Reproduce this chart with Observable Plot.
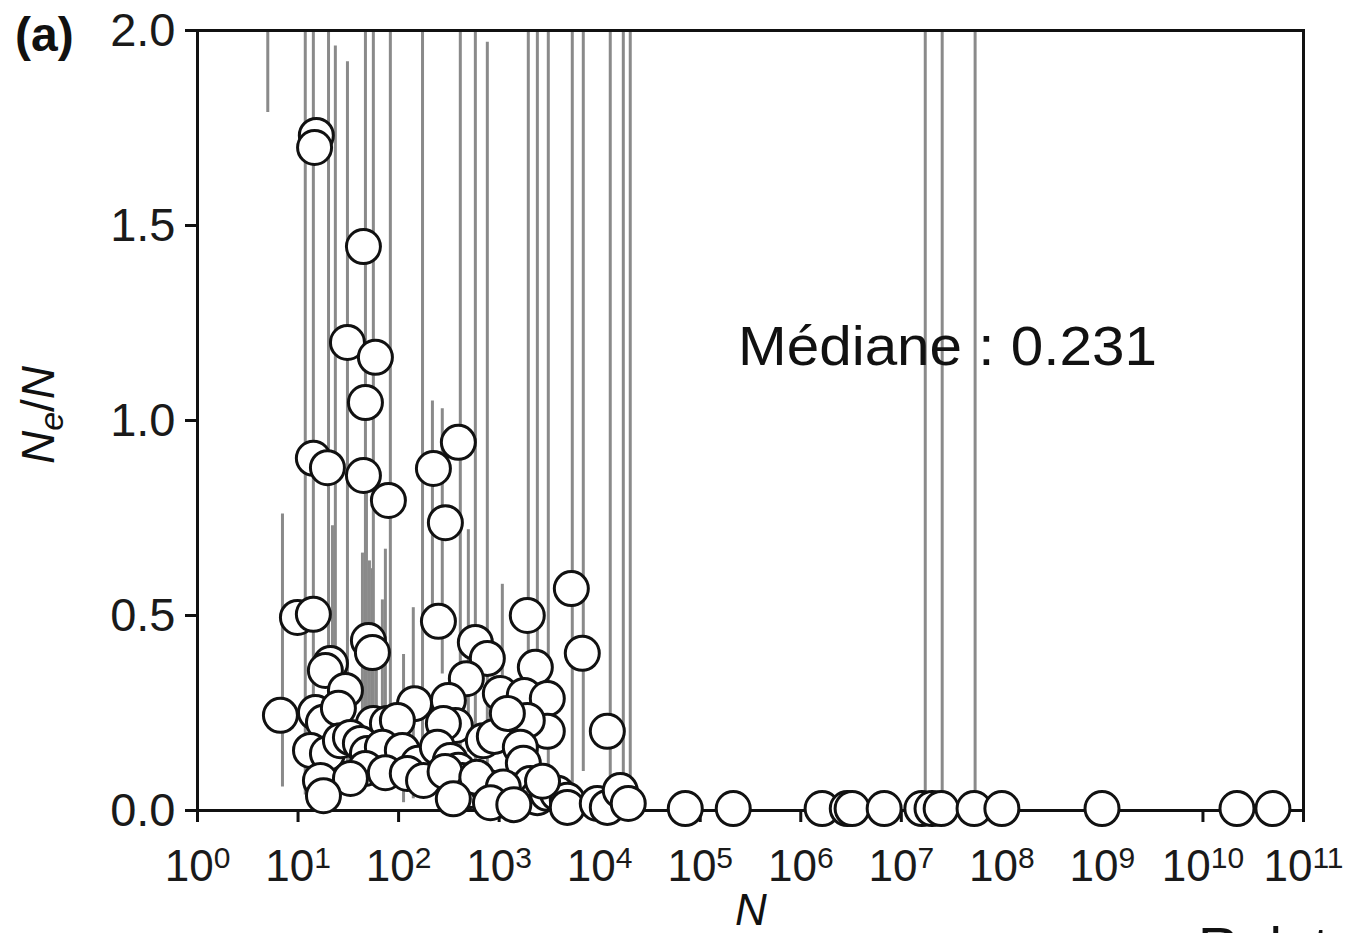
<!DOCTYPE html>
<html>
<head>
<meta charset="utf-8">
<script src="https://cdn.jsdelivr.net/npm/d3@7"></script>
<script src="https://cdn.jsdelivr.net/npm/@observablehq/plot@0.6"></script>
<style>
  html, body { margin: 0; padding: 0; background: #fff; overflow: hidden; }
  #wrap { position: relative; width: 1350px; height: 933px; }
</style>
</head>
<body>
<div id="wrap"></div>
<script>
// ---- Data ----
const xTicks = [1e0, 1e1, 1e2, 1e3, 1e4, 1e5, 1e6, 1e7, 1e8, 1e9, 1e10, 1e11];
const yTicks = [0, 0.5, 1.0, 1.5, 2.0];

// Census size N of each population and its Ne/N ratio
const ptN = [
  15.2, 14.6, 44.7, 31.0, 58.8, 46.8, 14.2, 19.6, 44.7, 79.2, 222, 393, 292,
  9.86, 14.2, 50.1, 54.9, 249, 580, 763, 1905, 5224, 6714, 2291, 472, 1028, 1778, 3013,
  6.68, 21.0, 18.7, 29.6, 144, 313,
  3013, 11910, 367, 697, 896, 14.9, 17.9, 25.2, 56.1, 77.4, 97.3, 279, 1905, 1207,
  13.3, 19.6, 26.4, 33.2, 41.7, 49.0, 69.0, 109, 157, 243, 327, 1625, 1741, 393, 46.8, 73.9,
  16.7, 33.2, 17.9, 122, 177, 431, 518, 781, 960, 1291, 1517, 2042, 2399, 3013, 3793,
  4764, 4764, 9462, 11910, 16030, 19240, 290, 600, 1100, 2700, 350, 820, 1400,
  7.10e4, 2.13e5, 1.63e6, 2.9e6, 3.24e6, 6.75e6, 1.6e7, 2.02e7, 2.49e7, 5.29e7, 1.00e8,
  9.91e8, 2.18e10, 4.96e10
];
const ptRatio = [
  1.731, 1.700, 1.446, 1.200, 1.162, 1.046, 0.903, 0.879, 0.859, 0.795, 0.877, 0.944, 0.738,
  0.495, 0.503, 0.436, 0.405, 0.485, 0.431, 0.390, 0.500, 0.569, 0.403, 0.367, 0.338, 0.300, 0.295, 0.287,
  0.244, 0.377, 0.359, 0.308, 0.274, 0.282,
  0.203, 0.203, 0.218, 0.179, 0.190, 0.251, 0.226, 0.262, 0.223, 0.223, 0.231, 0.223, 0.231, 0.249,
  0.154, 0.146, 0.179, 0.187, 0.172, 0.146, 0.162, 0.154, 0.121, 0.162, 0.128, 0.162, 0.121, 0.103, 0.108, 0.097,
  0.077, 0.082, 0.038, 0.095, 0.077, 0.077, 0.051, 0.059, 0.026, 0.051, 0.026, 0.069, 0.033, 0.044, 0.044,
  0.026, 0.008, 0.018, 0.008, 0.051, 0.018, 0.10, 0.085, 0.06, 0.075, 0.03, 0.02, 0.015,
  0.005, 0.005, 0.005, 0.005, 0.005, 0.005, 0.005, 0.005, 0.005, 0.005, 0.005,
  0.005, 0.005, 0.005
];

// Confidence intervals (vertical grey bars): N, lower bound, upper bound
const errN  = [5.0, 7.0, 11.8, 14.2, 20.1, 22.0, 23.5, 31.0, 43.7, 46.8, 47.9, 51.3, 54.9, 56.1, 60.1,
               69.0, 73.9, 82.8, 112, 140, 173, 217, 272, 411, 494, 580, 763, 1076,
               1950, 2400, 3083, 5340, 6870, 12740, 17180, 20140, 1.73e7, 2.55e7, 5.42e7];
const errLo = [1.79, 0.06, 0.04, 0.10, 0.08, 0.05, 0.10, 0.12, 0.12, 0.10, 0.10, 0.15, 0.20, 0.15, 0.18,
               0.10, 0.08, 0.10, 0.02, 0.03, 0.05, 0.45, 0.35, 0.08, 0.15, 0.05, 0.10, 0.17,
               0.05, 0.10, 0.05, 0.02, 0.10, 0.05, 0.02, 0.01, 0.0, 0.0, 0.0];
const errHi = [2.6, 0.76, 2.6, 2.6, 2.6, 0.73, 1.96, 1.92, 0.66, 2.6, 0.85, 0.64, 0.62, 2.6, 0.45,
               0.54, 0.67, 2.6, 0.40, 0.52, 2.6, 1.05, 1.03, 2.6, 0.72, 2.6, 1.97, 0.58,
               2.6, 2.6, 2.6, 2.6, 2.6, 2.6, 2.6, 2.6, 2.6, 2.6, 2.6];

const points = ptN.map((n, i) => ({N: n, r: ptRatio[i]}));
const bars = errN.map((n, i) => ({N: n, lo: errLo[i], hi: errHi[i]}));

const FONT = "'Liberation Sans', Arial, Helvetica, sans-serif";

const chart = Plot.plot({
  width: 1350,
  height: 933,
  marginLeft: 197,
  marginRight: 47,
  marginTop: 30,
  marginBottom: 123,
  style: {fontSize: "44px", fontFamily: FONT, color: "#1a1a1a", background: "white"},
  x: {type: "log", domain: [1, 1e11], ticks: xTicks,
      tickFormat: d => "10^" + Math.round(Math.log10(d)),
      tickSize: 12, tickPadding: 27, label: null},
  y: {domain: [0, 2], ticks: yTicks, tickFormat: d3.format(".1f"),
      tickSize: 12, tickPadding: 10, label: null},
  marks: [
    Plot.ruleX(bars, {x: "N", y1: "lo", y2: "hi", stroke: "#8a8a8a", strokeWidth: 3, clip: true}),
    Plot.frame({stroke: "#111", strokeWidth: 3}),
    Plot.dot(points, {x: "N", y: "r", r: 17, fill: "white", stroke: "#111", strokeWidth: 3})
  ]
});

document.getElementById("wrap").appendChild(chart);

const svg = d3.select(chart.tagName.toLowerCase() === "svg" ? chart : chart.querySelector("svg"));

// thicker axis ticks
svg.selectAll('[aria-label*="axis"] line, [aria-label*="axis"] path')
  .attr("stroke-width", 3).attr("stroke", "#111");

// slightly wider y tick labels as in the reference
svg.selectAll('[aria-label^="y-axis"] text').attr("font-size", "47px");

// superscript exponents on x tick labels
svg.selectAll("text").each(function() {
  const t = this.textContent;
  const m = /^10\^(\d+)$/.exec(t);
  if (m) {
    const sel = d3.select(this);
    sel.text("10");
    sel.append("tspan").attr("dy", "-13").attr("font-size", "30px").text(m[1]);
  }
});

// annotations
const ann = svg.append("g").attr("font-family", FONT).attr("fill", "#111").attr("text-anchor", "start");
ann.append("text").attr("x", 15).attr("y", 51).attr("font-size", 48).attr("font-weight", "bold").text("(a)");

const yl = ann.append("text").attr("transform", "translate(54,415) rotate(-90)")
  .attr("text-anchor", "middle").attr("font-size", 46);
yl.append("tspan").attr("font-style", "italic").text("N");
yl.append("tspan").attr("font-style", "italic").attr("font-size", 34).attr("dy", 9).text("e");
yl.append("tspan").attr("dy", -9).text("/");
yl.append("tspan").attr("font-style", "italic").text("N");

ann.append("text").attr("x", 751).attr("y", 925).attr("text-anchor", "middle")
  .attr("font-size", 44).attr("font-style", "italic").text("N");

ann.append("text").attr("x", 738).attr("y", 365).attr("font-size", 56)
  .attr("textLength", 419).attr("lengthAdjust", "spacingAndGlyphs").text("Médiane : 0.231");

ann.append("text").attr("x", 1198).attr("y", 966).attr("font-size", 56).text("Relat");
</script>
</body>
</html>
